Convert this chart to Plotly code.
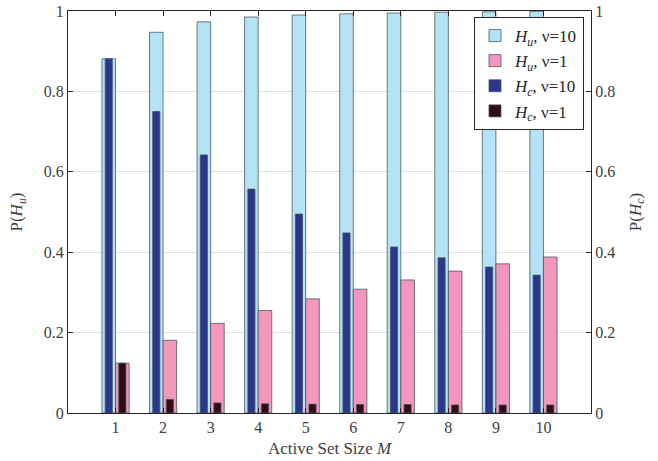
import plotly.graph_objects as go

# Active set sizes
M = [1, 2, 3, 4, 5, 6, 7, 8, 9, 10]

# P(H_u) — left axis
hu_v10 = [0.881, 0.947, 0.973, 0.985, 0.990, 0.993, 0.995, 0.997, 0.998, 0.999]
hu_v1 = [0.124, 0.181, 0.223, 0.255, 0.284, 0.308, 0.331, 0.353, 0.371, 0.388]

# P(H_c) — right axis
hc_v10 = [0.881, 0.750, 0.642, 0.557, 0.495, 0.448, 0.413, 0.386, 0.363, 0.343]
hc_v1 = [0.124, 0.034, 0.025, 0.023, 0.022, 0.021, 0.021, 0.020, 0.020, 0.020]

names = [
    "<i>H</i><sub><i>u</i></sub>, ν=10",
    "<i>H</i><sub><i>u</i></sub>, ν=1",
    "<i>H</i><sub><i>c</i></sub>, ν=10",
    "<i>H</i><sub><i>c</i></sub>, ν=1",
]
colors = ["#b3e3f5", "#f497bf", "#2b378c", "#2d1013"]

FONT = "Liberation Serif"
AX = "#262626"
TXT = "#404040"

wide = 0.2857   # grouped width of each H_u bar
narrow = 0.15   # narrower H_c bars drawn in front

fig = go.Figure()
edge = dict(color="rgba(70,80,90,0.75)", width=1)

fig.add_trace(go.Bar(x=M, y=hu_v10, name=names[0], width=wide, offset=-wide,
                     marker=dict(color=colors[0], line=edge), yaxis="y"))
fig.add_trace(go.Bar(x=M, y=hu_v1, name=names[1], width=wide, offset=0,
                     marker=dict(color=colors[1], line=edge), yaxis="y"))
fig.add_trace(go.Bar(x=M, y=hc_v10, name=names[2], width=narrow,
                     offset=-wide / 2 - narrow / 2,
                     marker=dict(color=colors[2], line=edge), yaxis="y2"))
fig.add_trace(go.Bar(x=M, y=hc_v1, name=names[3], width=narrow,
                     offset=wide / 2 - narrow / 2,
                     marker=dict(color=colors[3], line=edge), yaxis="y2"))

tickfont = dict(family=FONT, size=16, color=TXT)
titlefont = dict(family=FONT, size=17, color=TXT)

fig.update_layout(
    width=658, height=461,
    margin=dict(l=68, r=67, t=11, b=48, autoexpand=False),
    barmode="overlay",
    paper_bgcolor="white", plot_bgcolor="white",
    font=dict(family=FONT, size=16, color=TXT),
    xaxis=dict(
        range=[0, 11], tickvals=M, ticks="inside", ticklen=5, tickcolor=AX,
        showline=True, linecolor=AX, linewidth=1, mirror="ticks",
        showgrid=False, zeroline=False, tickfont=tickfont, automargin=False,
        title=dict(text="Active Set Size <i>M</i>", standoff=6, font=titlefont),
    ),
    yaxis=dict(
        range=[0, 1], dtick=0.2, ticks="inside", ticklen=5, tickcolor=AX,
        showline=True, linecolor=AX, linewidth=1, automargin=False,
        showgrid=True, gridcolor="#e0e0e0", gridwidth=1, zeroline=False,
        tickfont=tickfont,
        title=dict(text="P(<i>H</i><sub><i>u</i></sub>)", standoff=16,
                   font=titlefont),
    ),
    yaxis2=dict(
        range=[0, 1], dtick=0.2, ticks="inside", ticklen=5, tickcolor=AX,
        overlaying="y", side="right", automargin=False,
        showline=True, linecolor=AX, linewidth=1,
        showgrid=False, zeroline=False, tickfont=tickfont,
        title=dict(text="P(<i>H</i><sub><i>c</i></sub>)", standoff=14,
                   font=titlefont),
    ),
    legend=dict(
        x=0.9866, y=0.985, xanchor="right", yanchor="top",
        bgcolor="white", bordercolor=AX, borderwidth=1,
        font=dict(family=FONT, size=17, color=AX),
        itemwidth=30, tracegroupgap=0,
    ),
    showlegend=True,
)

fig.write_html("out.html")
